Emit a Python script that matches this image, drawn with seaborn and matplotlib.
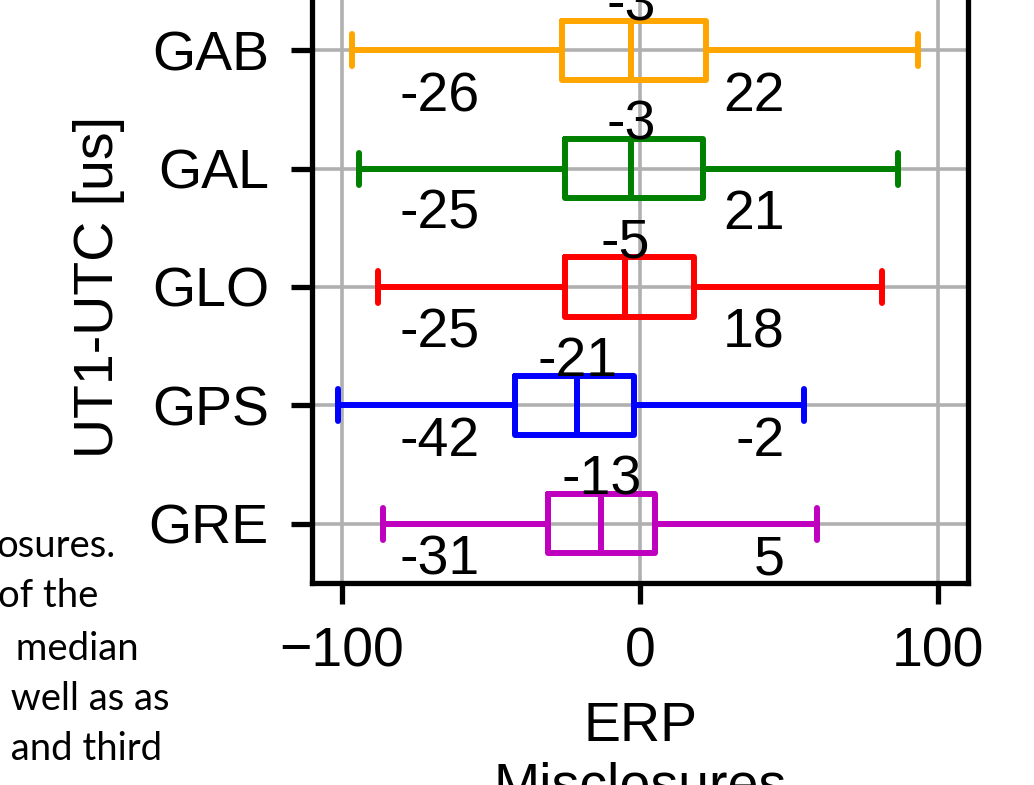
import matplotlib
matplotlib.use("Agg")
import numpy as np
import pandas as pd
import seaborn as sns
import matplotlib.pyplot as plt

# ---------------- data ----------------
systems = ["GAB", "GAL", "GLO", "GPS", "GRE"]
whisker_low = [-96.5, -94.1, -87.8, -101.2, -86.1]
q1 = [-26, -25, -25, -42, -31]
median = [-3, -3, -5, -21, -13]
q3 = [22, 21, 18, -2, 5]
whisker_high = [93.1, 86.4, 81.1, 54.9, 59.3]
colors = ["orange", "green", "red", "blue", "m"]
side_lines = ["osures.", "of the", " median", " well as as", " and third"]

# five-number summaries as the observations of each system
rows = []
for s, lo, a, m, b, hi in zip(systems, whisker_low, q1, median, q3, whisker_high):
    for v in (lo, a, m, b, hi):
        rows.append({"system": s, "value": v})
df = pd.DataFrame(rows)

# ---------------- style ----------------
sns.set_style("ticks")
plt.rcParams["font.family"] = ["Liberation Sans", "DejaVu Sans"]
plt.rcParams["text.color"] = "black"
plt.rcParams["axes.labelcolor"] = "black"
FS = 40
LW = 4.3

fig = plt.figure(figsize=(10.34, 7.85), dpi=100)
W, H = 1034, 785
ax = fig.add_axes([312 / W, (H - 583) / H, 656 / W, 592 / H])

sns.boxplot(data=df, x="value", y="system", hue="system", order=systems,
            hue_order=systems, palette=colors, whis=(0, 100), width=0.5,
            fill=False, linewidth=LW, legend=False, capwidths=0.27, ax=ax)
for ln in ax.lines:
    ln.set_linewidth(LW)
for p in ax.patches:
    p.set_linewidth(LW)

ax.set_xlim(-110, 110)
ax.set_ylim(4.5, -0.5)
ax.set_xticks([-100, 0, 100])
ax.grid(True, color="#b0b0b0", linewidth=2.6)
ax.set_axisbelow(True)
for sp in ax.spines.values():
    sp.set_visible(True)
    sp.set_color("black")
    sp.set_linewidth(3.8)
ax.tick_params(axis="both", length=15, width=3.8, pad=16, labelsize=FS,
               colors="black")

ax.set_ylabel("UT1-UTC [us]", fontsize=FS)
ax.yaxis.set_label_coords(-0.285, 0.5)
ax.set_xlabel("ERP\nMisclosures", fontsize=FS)
ax.xaxis.set_label_coords(0.5, -0.2)

# annotations
Q1_X, Q3_X = -80.5, 48.6
q_dy = [0.515, 0.51, 0.51, 0.43, 0.43]
MED_DY = -0.25
for i in range(len(systems)):
    ax.text(Q1_X, i + q_dy[i], f"{q1[i]:d}", ha="left", va="baseline",
            fontsize=FS, color="black")
    ax.text(Q3_X, i + q_dy[i], f"{q3[i]:d}", ha="right", va="baseline",
            fontsize=FS, color="black")
    ax.text(median[i], i + MED_DY, f"{median[i]:d}", ha="center",
            va="baseline", fontsize=FS, color="black")

# surrounding document text
side_x = [116, -2, 6, 1, 1]
side_base = [557, 607, 660, 710, 760]
for k, (t, xx, yy) in enumerate(zip(side_lines, side_x, side_base)):
    fig.text(xx / W, 1 - yy / H, t, ha="right" if k == 0 else "left",
             va="baseline", fontsize=27.5, family=["Lato", "DejaVu Sans"],
             color="black")

fig.savefig("out.png", dpi=100)
